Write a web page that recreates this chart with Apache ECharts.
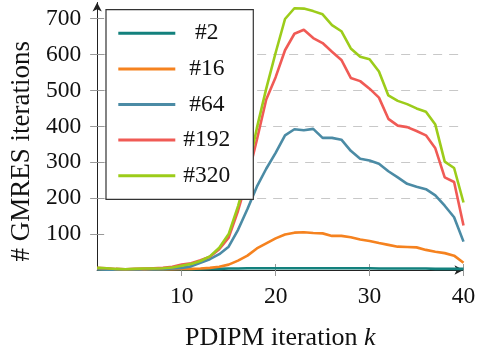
<!DOCTYPE html>
<html>
<head>
<meta charset="utf-8">
<script src="https://cdn.jsdelivr.net/npm/echarts@6/dist/echarts.min.js"></script>
<style>
html,body{margin:0;padding:0;background:#fff;}
#chart{width:482px;height:356px;}
</style>
</head>
<body>
<div id="chart"></div>
<script>
const iterations = [1,2,3,4,5,6,7,8,9,10,11,12,13,14,15,16,17,18,19,20,21,22,23,24,25,26,27,28,29,30,31,32,33,34,35,36,37,38,39,40];
const seriesNames = ['#2', '#16', '#64', '#192', '#320'];
const s2   = [2,1,1,1,1,1,1,1,2,2,2,2,3,3,4,4,5,5,5,5,5,5,5,5,5,5,5,5,5,5,4,4,4,4,4,4,3,3,3,3];
const s16  = [3,2,2,1,1,1,2,2,2,3,3,4,6,9,15,26,40,60,74,88,99,104,105,103,102,95,95,91,85,81,75,70,65,64,63,56,51,47,40,20];
const s64  = [2,1,1,1,1,2,2,3,4,6,10,20,30,44,65,112,170,232,282,326,375,392,389,393,368,368,363,332,310,305,296,275,258,240,232,225,208,179,147,79];
const s192 = [6,5,3,2,3,4,5,6,9,15,19,27,37,58,90,165,255,362,475,537,612,658,669,646,632,608,585,535,526,505,480,421,402,398,387,375,339,258,245,124];
const s320 = [6,5,3,2,3,4,4,5,7,12,17,25,38,62,100,178,270,395,505,605,699,729,728,721,712,682,665,617,594,587,553,486,471,462,450,441,405,302,284,188];
const xTicks = [10, 20, 30, 40];
const yTicks = [100, 200, 300, 400, 500, 600, 700];
const colors = ['#13817d', '#f5821f', '#4b8ba5', '#f05a55', '#9ccc1a'];

const allData = [s2, s16, s64, s192, s320];
const FONT = 'Liberation Serif';
const INK = '#111';

const chart = echarts.init(document.getElementById('chart'), null, {renderer: 'canvas'});
const series = allData.map((d, i) => ({
  name: seriesNames[i],
  type: 'line',
  data: iterations.map((k, j) => [k, d[j]]),
  showSymbol: false,
  symbol: 'none',
  lineStyle: {color: colors[i], width: 2.6},
  itemStyle: {color: colors[i]},
  z: 2 + i,
  clip: false
}));

chart.setOption({
  animation: false,
  backgroundColor: '#fff',
  textStyle: {fontFamily: FONT},
  grid: {left: 94.5, right: 18.5, top: 2.5, bottom: 80.5, containLabel: false},
  legend: {
    orient: 'vertical',
    left: 106, top: 9.7,
    padding: [11.6, 20, 11.6, 12.3],
    itemGap: 11.6,
    itemWidth: 57, itemHeight: 3,
    icon: 'rect',
    backgroundColor: '#fff',
    borderColor: '#333',
    borderWidth: 1.2,
    borderRadius: 0,
    data: seriesNames,
    formatter: '{a|{name}}',
    textStyle: {
      fontFamily: FONT, fontSize: 23.5, lineHeight: 24, color: INK,
      rich: {a: {width: 53, align: 'center', fontFamily: FONT, fontSize: 23.5, lineHeight: 24, color: INK}}
    },
    z: 10
  },
  xAxis: [{
    type: 'value', min: 1, max: 40,
    position: 'bottom',
    name: 'PDIPM iteration {i|k}',
    nameLocation: 'middle', nameGap: 55,
    nameTextStyle: {fontFamily: FONT, fontSize: 26, color: INK,
      rich: {i: {fontFamily: FONT, fontSize: 26, fontStyle: 'italic', color: INK}}},
    axisLine: {show: true, lineStyle: {color: '#222', width: 1}, symbol: ['none', 'arrow'], symbolSize: [7, 9]},
    axisTick: {show: true, customValues: xTicks, length: 6, inside: false, lineStyle: {color: '#999', width: 1}},
    axisLabel: {customValues: xTicks, margin: 15, fontFamily: FONT, fontSize: 23.5, color: INK},
    splitLine: {show: false}
  }, {
    type: 'value', min: 1, max: 40,
    position: 'bottom', offset: 0,
    axisLine: {show: false},
    axisTick: {show: true, customValues: xTicks, length: 6, inside: true, lineStyle: {color: '#999', width: 1}},
    axisLabel: {show: false},
    splitLine: {show: false}
  }],
  yAxis: [{
    type: 'value', min: 0, max: 745, interval: 100,
    position: 'left',
    name: '# GMRES iterations',
    nameLocation: 'middle', nameGap: 47,
    nameTextStyle: {fontFamily: FONT, fontSize: 27, color: INK, padding: [0, 30, 0, 0]},
    axisLine: {show: true, lineStyle: {color: '#222', width: 1}, symbol: ['none', 'arrow'], symbolSize: [7, 9]},
    axisTick: {show: true, customValues: yTicks, length: 7, inside: false, lineStyle: {color: '#999', width: 1}},
    axisLabel: {customValues: yTicks, margin: 16, fontFamily: FONT, fontSize: 23.5, color: INK},
    splitLine: {show: true, showMinLine: false, showMaxLine: false, lineStyle: {color: '#c8c8c8', type: [9, 7], width: 1}}
  }, {
    type: 'value', min: 0, max: 745, interval: 100,
    position: 'left', offset: 0,
    axisLine: {show: false},
    axisTick: {show: true, customValues: yTicks, length: 7, inside: true, lineStyle: {color: '#999', width: 1}},
    axisLabel: {show: false},
    splitLine: {show: false}
  }],
  series: series
});
</script>
</body>
</html>
